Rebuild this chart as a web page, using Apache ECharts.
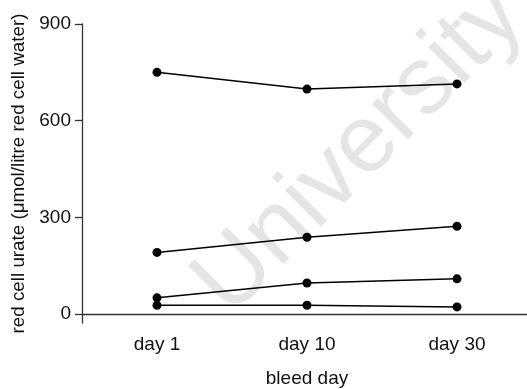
<!DOCTYPE html>
<html>
<head>
<meta charset="utf-8">
<script src="https://cdn.jsdelivr.net/npm/echarts@6/dist/echarts.min.js"></script>
<style>html,body{margin:0;padding:0;background:#fff}#c{width:527px;height:389px}</style>
</head>
<body>
<div id="c"></div>
<script>
var categories = ['day 1', 'day 10', 'day 30'];
var subjectA = [750, 698, 714];
var subjectB = [191, 238, 272];
var subjectC = [50, 96, 109];
var subjectD = [27, 27, 22];
var yTicks = [0, 300, 600, 900];

var FONT = 'Liberation Sans, Arial, Helvetica, sans-serif';
var chart = echarts.init(document.getElementById('c'), null, {renderer: 'canvas'});

function mk(data) {
  return {
    type: 'line', data: data, symbol: 'circle', symbolSize: 9,
    lineStyle: {color: '#000', width: 1.5}, itemStyle: {color: '#000'},
    silent: true, animation: false, z: 3
  };
}

chart.setOption({
  animation: false,
  backgroundColor: '#fff',
  grid: {left: 82, width: 450, top: 24, height: 299, containLabel: false, outerBoundsMode: 'none'},
  graphic: [{
    type: 'text',
    x: 360, y: 150,
    rotation: Math.PI / 4,
    z: 0,
    style: {text: 'University', font: '96px ' + FONT, fill: '#e5e5e5', textAlign: 'center', textVerticalAlign: 'middle'}
  }],
  xAxis: {
    type: 'category', data: categories, boundaryGap: true,
    name: 'bleed day', nameLocation: 'middle', nameGap: 46,
    nameTextStyle: {fontFamily: FONT, fontSize: 19, color: '#111'},
    axisLine: {lineStyle: {color: '#333', width: 1.3}},
    axisTick: {alignWithLabel: true, length: 8, lineStyle: {color: '#333', width: 1.3}},
    axisLabel: {fontFamily: FONT, fontSize: 19, color: '#111', margin: 12},
    splitLine: {show: false}
  },
  yAxis: {
    type: 'value', min: -28, max: 900,
    name: 'red cell urate (\u03bcmol/litre red cell water)', nameLocation: 'middle', nameGap: 52,
    nameTextStyle: {fontFamily: FONT, fontSize: 18.8, color: '#111'},
    axisLine: {show: true, lineStyle: {color: '#333', width: 1.3}},
    axisTick: {show: true, length: 7, customValues: yTicks, lineStyle: {color: '#333', width: 1.3}},
    axisLabel: {fontFamily: FONT, fontSize: 19, color: '#111', margin: 11, customValues: yTicks},
    splitLine: {show: false}
  },
  series: [mk(subjectA), mk(subjectB), mk(subjectC), mk(subjectD)]
});
</script>
</body>
</html>
